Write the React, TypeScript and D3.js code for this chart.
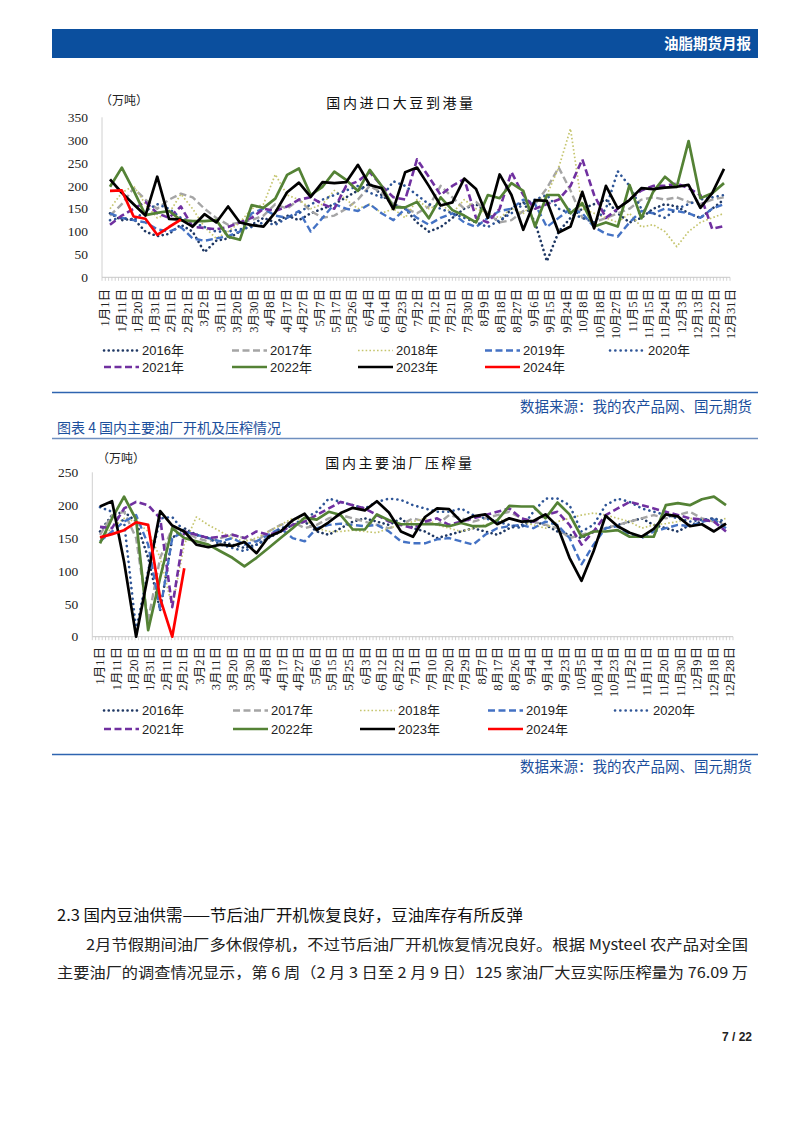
import React from 'react';
import * as d3 from 'd3';

// ---------- data ----------
const years = ['2016年', '2017年', '2018年', '2019年', '2020年', '2021年', '2022年', '2023年', '2024年'];

const arrivalLabels = ['1月1日','1月11日','1月20日','1月31日','2月11日','2月21日','3月2日','3月11日','3月20日','3月30日','4月8日','4月17日','4月27日','5月7日','5月17日','5月26日','6月4日','6月14日','6月23日','7月2日','7月12日','7月21日','7月30日','8月9日','8月18日','8月27日','9月6日','9月15日','9月24日','10月8日','10月18日','10月27日','11月5日','11月15日','11月24日','12月3日','12月13日','12月22日','12月31日'];
const crushLabels = ['1月1日','1月11日','1月20日','1月31日','2月11日','2月21日','3月2日','3月11日','3月20日','3月30日','4月8日','4月17日','4月27日','5月6日','5月15日','5月25日','6月3日','6月12日','6月22日','7月1日','7月10日','7月20日','7月29日','8月7日','8月17日','8月26日','9月4日','9月14日','9月23日','10月5日','10月14日','10月23日','11月2日','11月11日','11月20日','11月30日','12月9日','12月18日','12月28日'];

const arrivalTicks = [0, 50, 100, 150, 200, 250, 300, 350];
const crushTicks = [0, 50, 100, 150, 200, 250];

// 国内进口大豆到港量 (万吨), weekly
const arrival2016 = [140,125,128,100,90,95,115,100,55,80,85,100,115,130,120,135,125,140,150,160,175,190,205,180,160,150,120,100,110,130,150,160,140,120,150,165,120,35,100,130,150,160,170,140,120,130,150,160,155,140,130,150,170];
const arrival2017 = [135,160,195,170,150,170,183,175,150,130,115,120,125,135,160,150,170,145,130,135,150,170,200,185,160,150,140,155,200,175,150,165,140,120,125,145,160,195,240,190,130,120,130,140,150,170,175,170,175,165,160,170,175];
const arrival2018 = [150,185,200,160,130,140,182,150,110,85,100,120,150,160,225,180,170,150,160,190,170,150,160,140,150,130,170,150,160,140,170,150,140,130,150,140,165,180,240,325,150,140,130,120,140,110,115,100,67,100,120,130,140];
const arrival2019 = [140,130,125,120,105,100,110,85,80,85,90,100,140,150,135,130,145,100,130,160,150,145,160,140,125,150,130,115,130,140,120,110,130,145,150,170,160,110,130,150,140,110,95,89,120,145,140,150,145,140,130,150,160];
const arrival2020 = [125,130,125,145,160,150,130,120,110,100,100,105,110,120,115,130,140,160,170,180,190,200,185,175,210,200,180,160,150,140,130,120,110,125,140,160,170,180,150,140,130,120,150,232,200,150,140,130,150,160,170,175,180];
const arrival2021 = [115,135,150,165,140,130,155,110,108,105,110,120,130,150,145,155,170,175,160,150,200,210,230,200,175,170,258,220,180,200,215,130,120,150,230,180,150,160,170,200,258,180,130,150,170,190,200,200,205,195,180,106,112];
const arrival2022 = [198,240,190,136,141,145,125,123,123,125,89,82,158,152,172,224,238,180,198,231,213,189,235,200,153,153,165,129,175,147,135,120,180,173,206,189,111,180,180,140,162,111,120,111,202,129,187,220,198,298,173,184,206];
const arrival2023 = [214,185,160,135,220,128,126,111,138,120,155,120,114,111,142,186,207,176,208,206,208,246,202,195,149,230,240,200,157,164,216,193,130,225,180,104,169,167,98,111,187,107,200,151,169,195,193,196,198,202,152,184,237];
const arrival2024 = [189,190,133,128,93,110,126];

// 国内主要油厂压榨量 (万吨), weekly
const crush2016 = [160,185,190,175,120,40,150,165,155,150,145,140,135,140,150,160,170,175,160,155,165,175,180,175,170,180,165,160,150,155,160,165,160,155,165,170,175,170,160,155,150,160,165,170,175,180,170,165,160,170,175,180,170];
const crush2017 = [155,185,190,150,25,120,165,160,150,145,150,155,150,145,160,170,175,165,170,180,185,180,175,170,165,170,180,175,170,185,180,175,180,185,190,180,175,170,165,150,155,160,165,170,175,180,185,180,185,190,180,175,170];
const crush2018 = [150,165,180,175,160,120,45,140,182,170,160,150,145,150,160,170,180,178,165,160,160,162,160,158,165,170,175,180,170,165,160,165,170,175,180,175,170,165,175,180,185,188,185,180,175,165,170,172,175,180,178,175,180];
const crush2019 = [145,160,175,185,140,40,150,160,155,150,145,150,140,145,155,165,150,145,165,170,172,170,168,170,160,145,142,142,148,150,145,140,155,165,168,170,165,175,170,150,110,140,165,168,155,150,160,165,170,168,175,178,165];
const crush2020 = [197,190,175,10,100,180,182,160,155,150,140,135,130,140,150,165,170,180,190,210,205,200,195,205,210,208,200,195,190,190,195,185,180,175,170,165,190,210,210,200,160,170,200,210,205,195,190,185,180,175,178,180,175];
const crush2021 = [167,165,195,205,200,180,45,160,155,150,152,155,150,160,155,160,170,175,185,195,205,200,195,185,175,170,165,175,180,170,175,180,185,190,195,180,175,185,190,170,140,160,185,195,205,200,195,190,185,180,178,175,160];
const crush2022 = [142,180,213,178,10,90,165,150,145,140,130,120,107,120,135,150,165,181,178,190,185,163,163,186,177,171,171,171,171,168,173,168,168,177,199,198,198,180,204,186,152,160,160,162,152,152,152,200,203,200,209,213,200];
const crush2023 = [198,206,114,0,95,191,169,160,140,136,140,138,144,127,152,160,177,187,162,174,188,196,192,206,189,160,152,182,195,194,175,183,186,171,180,175,176,186,168,120,85,130,184,168,158,152,164,186,183,168,171,160,172];
const crush2024 = [151,156,162,174,170,58,0,104];

// ---------- styles ----------
const styles = [
  { color: '#1f3864', width: 2.6, dash: '0.1 4.6', cap: 'round' },
  { color: '#a5a5a5', width: 2.4, dash: '7 3.5', cap: 'butt' },
  { color: '#c5c56e', width: 1.7, dash: '1.6 2.2', cap: 'butt' },
  { color: '#4472c4', width: 2.4, dash: '7 3.5', cap: 'butt' },
  { color: '#2e5597', width: 2.6, dash: '0.1 5.2', cap: 'round' },
  { color: '#7030a0', width: 2.6, dash: '7 3.5', cap: 'butt' },
  { color: '#548235', width: 2.7, dash: '', cap: 'butt' },
  { color: '#000000', width: 2.7, dash: '', cap: 'butt' },
  { color: '#ff0000', width: 2.7, dash: '', cap: 'butt' },
];

const SERIF = '"Liberation Serif", "Noto Sans CJK SC", serif';
const SANS = '"Liberation Sans", "Noto Sans CJK SC", sans-serif';
const CJK = '"Noto Sans CJK SC", sans-serif';

type ChartCfg = {
  axisX: number; plotRight: number; yTop: number; yBottom: number; yMax: number;
  dataX0: number; dataX1: number; labelX0: number; labelX1: number; labelTop: number;
  titleX: number; titleY: number; unitX: number; unitY: number;
  legendY: number[]; legendX: number[];
};

function Chart({ cfg, series, labels, ticks, title }: { cfg: ChartCfg; series: number[][]; labels: string[]; ticks: number[]; title: string }) {
  const y = d3.scaleLinear().domain([0, cfg.yMax]).range([cfg.yBottom, cfg.yTop]);
  const x = d3.scaleLinear().domain([0, 52]).range([cfg.dataX0, cfg.dataX1]);
  const xl = d3.scaleLinear().domain([0, labels.length - 1]).range([cfg.labelX0, cfg.labelX1]);
  const line = d3.line<number>().x((_, i) => x(i)).y((d) => y(d));
  const minorCount = Math.floor((cfg.plotRight - cfg.axisX) / 3.3);
  const minor = d3.scaleLinear().domain([0, minorCount]).range([cfg.axisX, cfg.plotRight]);
  return (
    <g>
      <text x={cfg.unitX} y={cfg.unitY} fontFamily={CJK} fontSize={12} fill="#222">（万吨）</text>
      <text x={cfg.titleX} y={cfg.titleY} fontFamily={CJK} fontSize={14} fill="#111" textAnchor="middle" letterSpacing={2.6}>{title}</text>
      <line x1={cfg.axisX} x2={cfg.axisX} y1={cfg.yTop} y2={cfg.yBottom} stroke="#d0d0d0" strokeWidth={1} />
      {ticks.map((t) => (
        <text key={t} x={cfg.axisX - 14} y={y(t)} dy="0.35em" textAnchor="end" fontFamily={SERIF} fontSize={13.5} fill="#222">{t}</text>
      ))}
      <line x1={cfg.axisX} x2={cfg.plotRight} y1={cfg.yBottom} y2={cfg.yBottom} stroke="#c8c8c8" strokeWidth={1} />
      {d3.range(minorCount + 1).map((k) => (
        <line key={k} x1={minor(k)} x2={minor(k)} y1={cfg.yBottom} y2={cfg.yBottom + 3.5} stroke="#c8c8c8" strokeWidth={0.8} />
      ))}
      {labels.map((l, i) => (
        <text key={i} transform={`translate(${xl(i)},${cfg.labelTop}) rotate(-90)`} textAnchor="end" dy="0.35em" fontFamily={SERIF} fontSize={12.5} fill="#222">{l}</text>
      ))}
      {series.map((s, k) => (
        <path key={k} d={line(s) || ''} fill="none" stroke={styles[k].color} strokeWidth={styles[k].width}
          strokeDasharray={styles[k].dash || undefined} strokeLinecap={styles[k].cap as any} strokeLinejoin="round" />
      ))}
      {years.map((yr, k) => {
        const row = k < 5 ? 0 : 1;
        const col = k < 5 ? k : k - 5;
        const lx = cfg.legendX[col];
        const ly = cfg.legendY[row];
        return (
          <g key={yr}>
            <line x1={lx} x2={lx + 35} y1={ly} y2={ly} stroke={styles[k].color} strokeWidth={styles[k].width}
              strokeDasharray={styles[k].dash || undefined} strokeLinecap={styles[k].cap as any} />
            <text x={lx + 38} y={ly} dy="0.35em" fontFamily={SANS} fontSize={13} fill="#222">{yr}</text>
          </g>
        );
      })}
    </g>
  );
}

const cfg1: ChartCfg = {
  axisX: 102, plotRight: 730, yTop: 117.3, yBottom: 277.3, yMax: 350,
  dataX0: 110, dataX1: 724, labelX0: 105, labelX1: 731, labelTop: 289,
  titleX: 401, titleY: 108, unitX: 100, unitY: 105,
  legendY: [350.5, 367], legendX: [104, 232, 358, 485, 610],
};
const cfg2: ChartCfg = {
  axisX: 92.3, plotRight: 733, yTop: 472.3, yBottom: 636.7, yMax: 250,
  dataX0: 100, dataX1: 726, labelX0: 100, labelX1: 730, labelTop: 647,
  titleX: 400, titleY: 468, unitX: 97, unitY: 463,
  legendY: [710.5, 729], legendX: [104, 233, 360, 488, 615],
};

export default function App() {
  const s1 = [arrival2016, arrival2017, arrival2018, arrival2019, arrival2020, arrival2021, arrival2022, arrival2023, arrival2024];
  const s2 = [crush2016, crush2017, crush2018, crush2019, crush2020, crush2021, crush2022, crush2023, crush2024];
  const blue = '#1c4f9c';
  return (
    <div style={{ position: 'absolute', left: 0, top: 0 }}>
      <svg width={802} height={1133} style={{ display: 'block', background: '#fff' }}>
        <rect x={52} y={29} width={706} height={29} fill="#0b4f9e" />
        <text x={751} y={49} textAnchor="end" fontFamily={CJK} fontWeight={700} fontSize={14.5} fill="#fff">油脂期货月报</text>

        <Chart cfg={cfg1} series={s1} labels={arrivalLabels} ticks={arrivalTicks} title="国内进口大豆到港量" />

        <line x1={52} x2={758} y1={392.5} y2={392.5} stroke="#2e64b0" strokeWidth={1.3} />
        <text x={752} y={412} textAnchor="end" fontFamily={CJK} fontSize={14.5} fill={blue}>数据来源：我的农产品网、国元期货</text>
        <text x={57} y={433} fontFamily={CJK} fontSize={14} fill={blue}>图表 4 国内主要油厂开机及压榨情况</text>
        <line x1={52} x2={758} y1={438.5} y2={438.5} stroke="#6f8fbf" strokeWidth={1.3} />

        <Chart cfg={cfg2} series={s2} labels={crushLabels} ticks={crushTicks} title="国内主要油厂压榨量" />

        <line x1={52} x2={758} y1={754.5} y2={754.5} stroke="#2e64b0" strokeWidth={1.3} />
        <text x={752} y={772} textAnchor="end" fontFamily={CJK} fontSize={14.5} fill={blue}>数据来源：我的农产品网、国元期货</text>

        <text x={57} y={921} fontFamily={CJK} fontSize={15.5} fill="#111" textLength={466} lengthAdjust="spacingAndGlyphs">2.3 国内豆油供需——节后油厂开机恢复良好，豆油库存有所反弹</text>
        <text x={86} y={950} fontFamily={CJK} fontSize={15} fill="#222" textLength={662} lengthAdjust="spacingAndGlyphs">2月节假期间油厂多休假停机，不过节后油厂开机恢复情况良好。根据 Mysteel 农产品对全国</text>
        <text x={57} y={978} fontFamily={CJK} fontSize={15} fill="#222" textLength={691} lengthAdjust="spacingAndGlyphs">主要油厂的调查情况显示，第 6 周（2 月 3 日至 2 月 9 日）125 家油厂大豆实际压榨量为 76.09 万</text>

        <text x={752} y={1041} textAnchor="end" fontFamily={SANS} fontWeight={700} fontSize={12} fill="#222">7 / 22</text>
      </svg>
    </div>
  );
}
